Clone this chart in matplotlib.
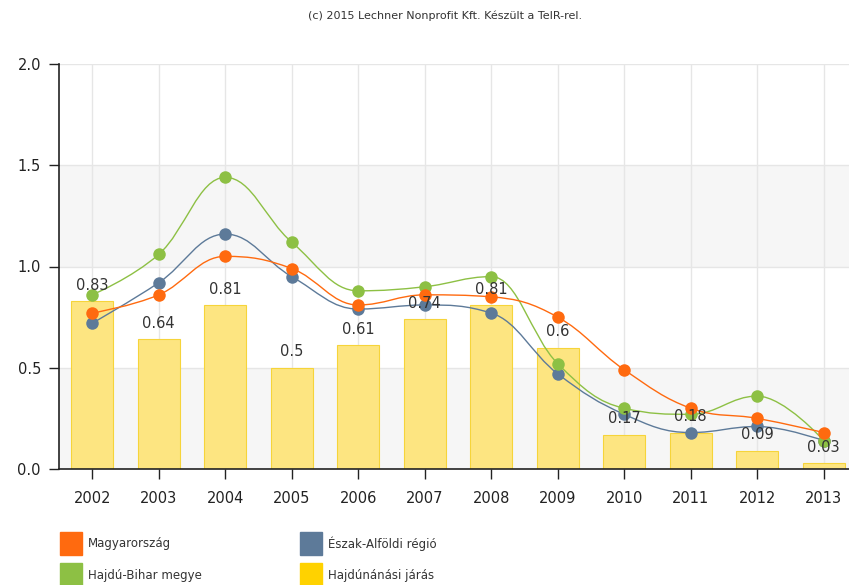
import matplotlib
matplotlib.use("Agg")
import matplotlib.pyplot as plt
from matplotlib.path import Path
import matplotlib.patches as mpatches
import numpy as np

years = ["2002", "2003", "2004", "2005", "2006", "2007",
         "2008", "2009", "2010", "2011", "2012", "2013"]

magyarorszag = [0.77, 0.86, 1.05, 0.99, 0.81, 0.86, 0.85, 0.75, 0.49, 0.30, 0.25, 0.18]
eszak_alfold = [0.72, 0.92, 1.16, 0.95, 0.79, 0.81, 0.77, 0.47, 0.27, 0.18, 0.21, 0.14]
hajdu_bihar = [0.86, 1.06, 1.44, 1.12, 0.88, 0.90, 0.95, 0.52, 0.30, 0.27, 0.36, 0.14]
hajdunanas = [0.83, 0.64, 0.81, 0.5, 0.61, 0.74, 0.81, 0.6, 0.17, 0.18, 0.09, 0.03]

bar_labels = ["0.83", "0.64", "0.81", "0.5", "0.61", "0.74",
              "0.81", "0.6", "0.17", "0.18", "0.09", "0.03"]

names = ["Magyarország", "Észak-Alföldi régió", "Hajdú-Bihar megye", "Hajdúnánási járás"]
colors = ["#ff6a0f", "#5d7a99", "#8dc044", "#ffd200"]

W, H = 849, 585
fig = plt.figure(figsize=(W / 100, H / 100), dpi=100, facecolor="white")
ax = fig.add_axes([59 / W, (H - 469) / H, 798 / W, 405 / H])

x = np.arange(len(years))


def spline_path(xs, ys, smoothing=1.5):
    # highcharts style spline: bezier through every point
    n = len(xs)
    denom = smoothing + 1
    lc = [None] * n
    rc = [None] * n
    for i in range(1, n - 1):
        px, py = xs[i], ys[i]
        lx, ly = xs[i - 1], ys[i - 1]
        nx, ny = xs[i + 1], ys[i + 1]
        lcx = (smoothing * px + lx) / denom
        lcy = (smoothing * py + ly) / denom
        rcx = (smoothing * px + nx) / denom
        rcy = (smoothing * py + ny) / denom
        corr = (rcy - lcy) * (rcx - px) / (rcx - lcx) + py - rcy
        lcy += corr
        rcy += corr
        if lcy > ly and lcy > py:
            lcy = max(ly, py)
            rcy = 2 * py - lcy
        elif lcy < ly and lcy < py:
            lcy = min(ly, py)
            rcy = 2 * py - lcy
        if rcy > ny and rcy > py:
            rcy = max(ny, py)
            lcy = 2 * py - rcy
        elif rcy < ny and rcy < py:
            rcy = min(ny, py)
            lcy = 2 * py - rcy
        lc[i] = (lcx, lcy)
        rc[i] = (rcx, rcy)
    verts = [(xs[0], ys[0])]
    codes = [Path.MOVETO]
    for i in range(1, n):
        c1 = rc[i - 1] if rc[i - 1] is not None else (xs[i - 1], ys[i - 1])
        c2 = lc[i] if lc[i] is not None else (xs[i], ys[i])
        verts += [c1, c2, (xs[i], ys[i])]
        codes += [Path.CURVE4] * 3
    return Path(verts, codes)


# alternating bands
ax.axhspan(0, 0.5, color="#f6f6f6", zorder=0, lw=0)
ax.axhspan(1.0, 1.5, color="#f6f6f6", zorder=0, lw=0)

for gy in [0.5, 1.0, 1.5, 2.0]:
    ax.axhline(gy, color="#e6e6e6", lw=1, zorder=0.5)
for gx in x:
    ax.axvline(gx, color="#e6e6e6", lw=1, zorder=0.5)

ax.bar(x, hajdunanas, width=0.63, color="#fde581", edgecolor="#f6d43a",
       lw=0.8, zorder=1)

series = [(eszak_alfold, colors[1], 2), (hajdu_bihar, colors[2], 3), (magyarorszag, colors[0], 4)]
for vals, col, z in series:
    p = spline_path(list(x.astype(float)), vals)
    ax.add_patch(mpatches.PathPatch(p, fill=False, edgecolor=col, lw=1.0, zorder=z))
    ax.plot(x, vals, "o", color=col, ms=9, mec="none", zorder=z + 0.1)

for xi, v, lab in zip(x, hajdunanas, bar_labels):
    ax.annotate(lab, (xi, v), xytext=(0, 6), textcoords="offset points",
                ha="center", va="bottom", fontsize=10.5, color="#333333", zorder=10)

ax.set_xlim(-0.5, 11.5)
ax.set_ylim(0, 2.0)
ax.set_yticks([0, 0.5, 1.0, 1.5, 2.0])
ax.set_yticklabels(["0.0", "0.5", "1.0", "1.5", "2.0"])
ax.set_xticks(x)
ax.set_xticklabels(years)
ax.tick_params(axis="both", labelsize=10.5, colors="#222222", length=7, width=1)
ax.tick_params(axis="x", pad=9)
ax.tick_params(axis="y", pad=6)
for s in ["top", "right"]:
    ax.spines[s].set_visible(False)
for s in ["left", "bottom"]:
    ax.spines[s].set_color("#222222")
    ax.spines[s].set_linewidth(1.2)
ax.set_facecolor("white")

fig.text(445 / W, 1 - 16 / H, "(c) 2015 Lechner Nonprofit Kft. Készült a TeIR-rel.",
         ha="center", va="center", fontsize=8, color="#333333")

# legend: two columns
leg_order = [0, 2, 1, 3]
for k, idx in enumerate(leg_order):
    col_i, row_i = k // 2, k % 2
    lx = 60 if col_i == 0 else 300
    ly = 532 + row_i * 31
    fig.patches.append(mpatches.Rectangle((lx / W, 1 - (ly + 23) / H), 22 / W, 23 / H,
                                          transform=fig.transFigure, color=colors[idx]))
    fig.text((lx + 28) / W, 1 - (ly + 12) / H, names[idx], ha="left", va="center",
             fontsize=8.5, color="#333333")

fig.savefig("out.png", dpi=100)
